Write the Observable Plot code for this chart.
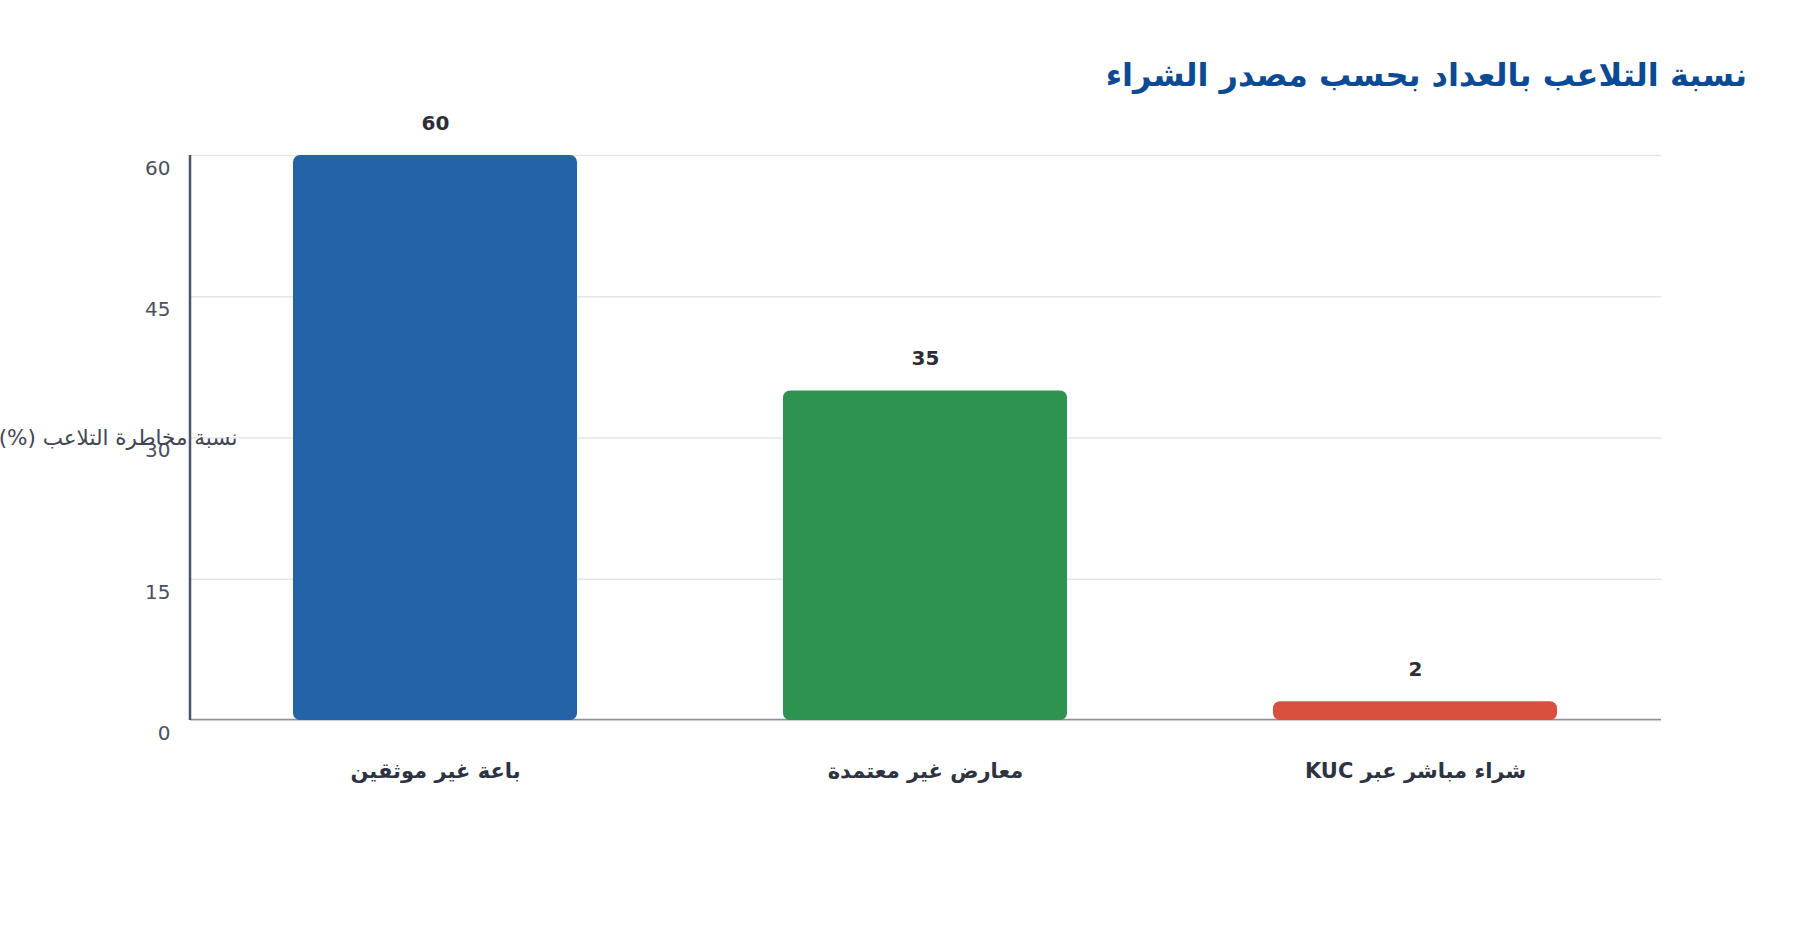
<!DOCTYPE html>
<html><head><meta charset="utf-8">
<script src="https://cdn.jsdelivr.net/npm/d3@7"></script>
<script src="https://cdn.jsdelivr.net/npm/@observablehq/plot@0.6"></script>
<style>
body{margin:0;background:#fff;font-family:"DejaVu Sans",sans-serif;}
#title{height:100px;box-sizing:border-box;padding-top:55px;padding-right:53px;text-align:right;direction:rtl;font-size:32px;line-height:40px;font-weight:bold;color:#0d4a94;}
</style></head>
<body>
<div id="title"></div>
<div id="chart"></div>
<script>
const titleText = "نسبة التلاعب بالعداد بحسب مصدر الشراء";
const yLabel = "نسبة مخاطرة التلاعب (%)";
const categories = ["باعة غير موثقين", "معارض غير معتمدة", "شراء مباشر عبر KUC"];
const values = [60, 35, 2];
const colors = ["#2563a8", "#2e9350", "#d95040"];
const yTicks = [0, 15, 30, 45, 60];

document.getElementById("title").textContent = titleText;
const data = categories.map((c, i) => ({cat: c, value: values[i], color: colors[i]}));
const rtl = s => "\u202B" + s + "\u202C";

function yAxisLine(...args) {
  const dim = args.find(a => a && a.marginLeft !== undefined);
  const g = d3.create("svg:line")
    .attr("x1", dim.marginLeft).attr("x2", dim.marginLeft)
    .attr("y1", dim.marginTop).attr("y2", dim.height - dim.marginBottom)
    .attr("stroke", "#4b5565").attr("stroke-width", 2.5);
  return g.node();
}

const chart = Plot.plot({
  width: 1800,
  height: 840,
  marginLeft: 190,
  marginRight: 139,
  marginTop: 55,
  marginBottom: 220,
  style: {fontFamily: "DejaVu Sans, sans-serif", background: "#fff"},
  x: {domain: categories, paddingInner: 0.42, paddingOuter: 0.21, axis: null},
  y: {domain: [0, 60], axis: null},
  marks: [
    Plot.ruleY(yTicks, {stroke: "#e3e6ea", strokeWidth: 1.5}),
    Plot.ruleY([0], {stroke: "#8a909a", strokeWidth: 1.5, dy: -1}),
    Plot.barY(data, {x: "cat", y: "value", fill: "color", rx: 7}),
    Plot.text(data, {x: "cat", y: "value", text: d => String(d.value), lineAnchor: "bottom", dy: -26, fontSize: 20, fontWeight: "bold", fill: "#2b2e35"}),
    Plot.text(data, {x: "cat", y: () => 0, text: d => rtl(d.cat), dy: 51, lineAnchor: "middle", fontSize: 21, fontWeight: "bold", fill: "#2d3340"}),
    Plot.text(yTicks, {y: d => d, text: d => String(d), frameAnchor: "left", textAnchor: "end", dx: -20, dy: 13, fontSize: 20, fill: "#4a5060"}),
    Plot.text([yLabel], {text: d => rtl(d), y: () => 30, frameAnchor: "left", textAnchor: "end", dx: -190 + 237, dy: 0, fontSize: 21.5, fill: "#3f4654"}),
    yAxisLine
  ]
});
document.getElementById("chart").appendChild(chart);
</script>
</body></html>
